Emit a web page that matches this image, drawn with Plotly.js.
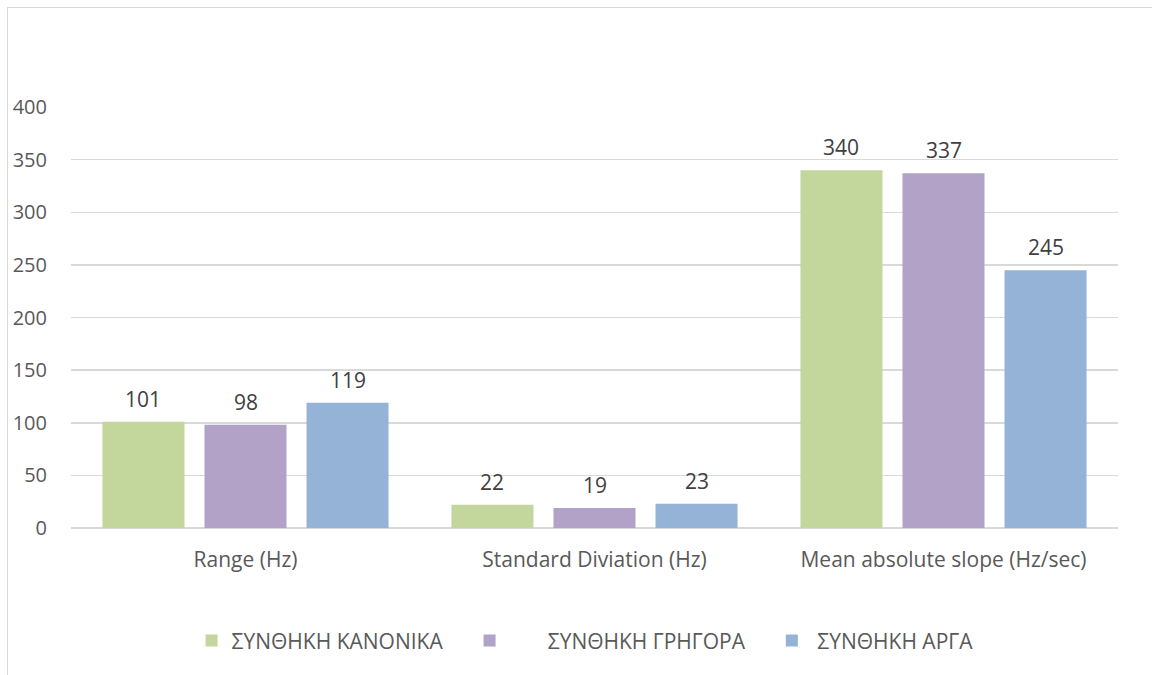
<!DOCTYPE html>
<html>
<head>
<meta charset="utf-8">
<script src="https://cdn.plot.ly/plotly-3.0.1.min.js"></script>
<style>
  html, body { margin: 0; padding: 0; background: #ffffff; }
  #wrap { position: relative; width: 1152px; height: 675px; }
  #chart { position: absolute; left: 0; top: 0; width: 1152px; height: 675px; }
  #frame { position: absolute; left: 7px; top: 7px; width: 1145px; height: 668px;
           border-left: 1.5px solid #d9d9d9; border-top: 1.5px solid #d9d9d9;
           pointer-events: none; box-sizing: border-box; }
</style>
</head>
<body>
<div id="wrap">
  <div id="chart"></div>
  <div id="frame"></div>
</div>
<script>
const categories = ["Range (Hz)", "Standard Diviation (Hz)", "Mean absolute slope (Hz/sec)"];
const seriesNames = ["ΣΥΝΘΗΚΗ ΚΑΝΟΝΙΚΑ", "ΣΥΝΘΗΚΗ ΓΡΗΓΟΡΑ", "ΣΥΝΘΗΚΗ ΑΡΓΑ"];
const NB = "\u00a0";
const legendLabels = [
  seriesNames[0] + NB.repeat(4),
  NB.repeat(7) + seriesNames[1] + NB.repeat(4),
  NB + seriesNames[2]
];
const kanonika = [101, 22, 340];
const grigora = [98, 19, 337];
const arga = [119, 23, 245];
const seriesValues = [kanonika, grigora, arga];
const colors = ["#c3d69b", "#b2a2c7", "#95b3d7"];
const yTicks = [0, 50, 100, 150, 200, 250, 300, 350, 400];

const W = 1152, H = 675;
const margin = { l: 71, r: 34, t: 107, b: 147 };
const bargap = 0.123;
const bargroupgap = 0.196;
const catWidthPx = (W - margin.l - margin.r) / categories.length;
const slotPx = catWidthPx * (1 - bargap) / seriesValues.length;

const textColor = "#595959";
const fontFam = "'Open Sans', 'DejaVu Sans', sans-serif";

const traces = seriesValues.map((vals, i) => ({
  type: "bar",
  name: legendLabels[i],
  x: categories,
  y: vals,
  marker: { color: colors[i], line: { width: 0 } },
  hoverinfo: "x+y"
}));

const annotations = [];
seriesValues.forEach((vals, i) => {
  vals.forEach((v, j) => {
    annotations.push({
      xref: "x", yref: "y",
      x: categories[j], y: v,
      text: String(v),
      showarrow: false,
      xanchor: "center", yanchor: "bottom",
      xshift: (i - (seriesValues.length - 1) / 2) * slotPx,
      yshift: 7,
      font: { family: fontFam, size: 21, color: "#404040" }
    });
  });
});

const layout = {
  width: W, height: H,
  margin: margin,
  paper_bgcolor: "#ffffff",
  plot_bgcolor: "#ffffff",
  barmode: "group",
  bargap: bargap,
  bargroupgap: bargroupgap,
  font: { family: fontFam, size: 21, color: textColor },
  showlegend: true,
  legend: {
    orientation: "h",
    x: 0.491, xanchor: "center",
    y: -0.268, yanchor: "middle",
    font: { family: fontFam, size: 21, color: textColor },
    traceorder: "normal"
  },
  xaxis: {
    type: "category",
    showgrid: false,
    showline: false,
    zeroline: false,
    ticks: "outside",
    ticklen: 13,
    tickcolor: "rgba(0,0,0,0)",
    tickfont: { family: fontFam, size: 21, color: textColor },
    fixedrange: true
  },
  yaxis: {
    range: [0, 400],
    tickvals: yTicks,
    ticktext: yTicks.map(String),
    showgrid: true,
    gridcolor: "#d9d9d9",
    gridwidth: 1.5,
    zeroline: true,
    zerolinecolor: "#d9d9d9",
    zerolinewidth: 1.5,
    showline: false,
    ticks: "outside",
    ticklen: 19,
    tickcolor: "rgba(0,0,0,0)",
    tickfont: { family: fontFam, size: 20, color: textColor },
    fixedrange: true
  },
  annotations: annotations
};

Plotly.newPlot("chart", traces, layout, { displayModeBar: false, staticPlot: true });
</script>
</body>
</html>
